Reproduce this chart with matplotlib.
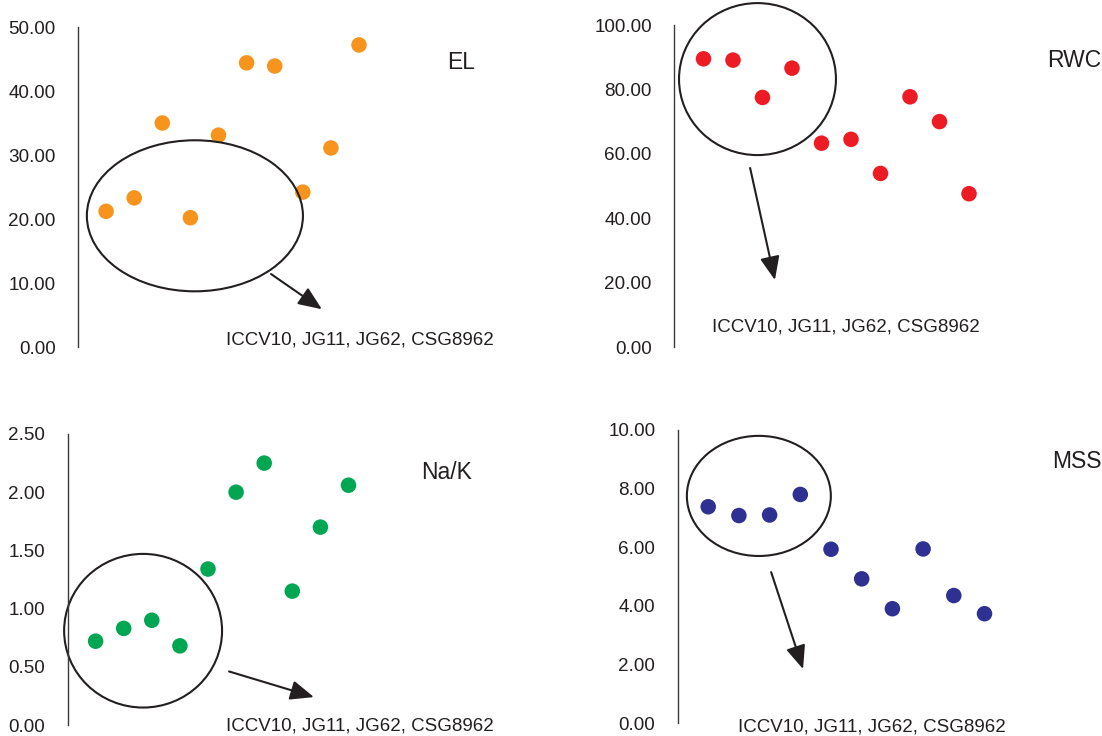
import matplotlib.pyplot as plt
from matplotlib.patches import Ellipse

plt.rcParams['font.family'] = ['Liberation Sans', 'DejaVu Sans']

genotype = [1, 2, 3, 4, 5, 6, 7, 8, 9, 10]
el = [21.2, 23.3, 35.0, 20.2, 33.1, 44.4, 43.9, 24.2, 31.1, 47.2]
rwc = [89.5, 89.1, 77.5, 86.6, 63.3, 64.5, 53.9, 77.7, 70.0, 47.6]
na_k = [0.72, 0.83, 0.90, 0.68, 1.34, 2.00, 2.25, 1.15, 1.70, 2.06]
mss = [7.38, 7.08, 7.10, 7.80, 5.93, 4.92, 3.90, 5.94, 4.35, 3.73]

group_label = "ICCV10, JG11, JG62, CSG8962"

W, H = 1102, 736
fig = plt.figure(figsize=(W / 100, H / 100), dpi=100)


def add_panel(left, top, bottom, step, ymax, ystep):
    # axes placed in pixel units, x scale set by spacing between points
    xmax = 14
    ax = fig.add_axes([left / W, 1 - bottom / H, xmax * step / W, (bottom - top) / H])
    ax.set_xlim(0, xmax)
    ax.set_ylim(0, ymax)
    ticks = [i * ystep for i in range(int(round(ymax / ystep)) + 1)]
    ax.set_yticks(ticks)
    ax.set_yticklabels(["%.2f" % t for t in ticks])
    ax.set_xticks([])
    for s in ["top", "right", "bottom"]:
        ax.spines[s].set_visible(False)
    ax.spines["left"].set_color("#3a3a3a")
    ax.spines["left"].set_linewidth(1.0)
    ax.tick_params(axis="y", length=0, pad=16, labelsize=13.6, labelcolor="#231F20")
    return ax


def decorate(ax, name, name_xy, text_xy, ell_xy, ell_w, ell_h, arr_from, arr_to):
    ax.text(name_xy[0], name_xy[1], name, fontsize=16.5, ha="center", va="center",
            color="#231F20", clip_on=False)
    ax.text(text_xy[0], text_xy[1], group_label, fontsize=13.5, ha="center", va="center",
            color="#231F20", clip_on=False)
    ax.add_patch(Ellipse(ell_xy, ell_w, ell_h, fill=False, edgecolor="#231F20",
                         linewidth=1.5, clip_on=False))
    ax.annotate("", xy=arr_to, xytext=arr_from,
                arrowprops=dict(arrowstyle="-|>,head_length=0.6,head_width=0.25",
                                color="#231F20", lw=1.5,
                                mutation_scale=24, shrinkA=0, shrinkB=0),
                annotation_clip=False)


# EL
ax1 = add_panel(78, 27, 347, 28.1, 50, 10)
ax1.scatter(genotype, el, s=125, color="#F7941D", edgecolors="none", clip_on=False)
decorate(ax1, "EL", (13.63, 44.4), (10.04, 1.1), (4.16, 20.5), 7.69, 23.6,
         (6.87, 11.4), (8.68, 5.9))

# RWC
ax2 = add_panel(674, 25, 347, 29.5, 100, 20)
ax2.scatter(genotype, rwc, s=125, color="#ED1C24", edgecolors="none", clip_on=False)
decorate(ax2, "RWC", (13.56, 89.1), (5.83, 6.2), (2.83, 83.2), 5.32, 47.2,
         (2.58, 55.6), (3.42, 20.8))

# Na/K
ax3 = add_panel(67.5, 434, 725, 28.1, 2.5, 0.5)
ax3.scatter(genotype, na_k, s=125, color="#00A651", edgecolors="none", clip_on=False)
decorate(ax3, "Na/K", (13.5, 2.17), (10.41, -0.01), (2.69, 0.81), 5.62, 1.32,
         (5.75, 0.46), (8.77, 0.24))

# MSS
ax4 = add_panel(677.5, 430, 723, 30.7, 10, 2)
ax4.scatter(genotype, mss, s=125, color="#2E3192", edgecolors="none", clip_on=False)
decorate(ax4, "MSS", (13.01, 8.94), (6.34, -0.14), (2.65, 7.75), 4.69, 4.1,
         (3.05, 5.15), (4.09, 1.84))

fig.savefig("out.png", dpi=100)
